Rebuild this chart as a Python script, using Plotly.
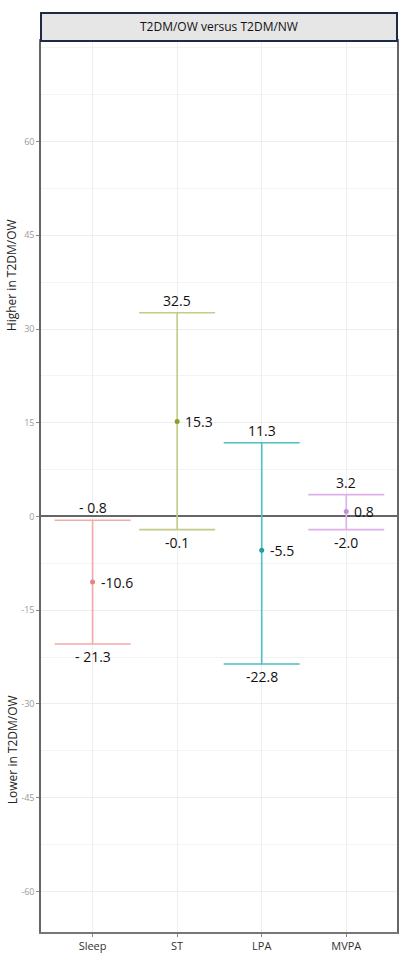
import plotly.graph_objects as go

# ---- data ----
categories = ["Sleep", "ST", "LPA", "MVPA"]
estimate = [-10.5, 15.2, -5.4, 0.8]
ci_lower = [-20.4, -2.1, -23.6, -2.1]
ci_upper = [-0.6, 32.6, 11.8, 3.5]
label_est = ["-10.6", "15.3", "-5.5", "0.8"]
label_lower = ["- 21.3", "-0.1", "-22.8", "-2.0"]
label_upper = ["- 0.8", "32.5", "11.3", "3.2"]
y_ticks = [60, 45, 30, 15, 0, -15, -30, -45, -60]
line_colors = ["#F2A9A6", "#C4CB86", "#4DBFC3", "#DDB0EA"]
point_colors = ["#E58582", "#8E9B2E", "#1F9EA3", "#C48ED8"]
title_text = "T2DM/OW versus T2DM/NW"

W, H = 410, 974
ml, mr, mt, mb = 41, 11, 13, 42
plot_h = H - mt - mb
strip_h = 28
dom_top = (plot_h - strip_h) / plot_h

fig = go.Figure()
for i, c in enumerate(categories):
    fig.add_trace(go.Scatter(
        x=[c], y=[estimate[i]], mode="markers",
        marker=dict(size=5, color=point_colors[i]),
        error_y=dict(type="data", symmetric=False,
                     array=[ci_upper[i] - estimate[i]],
                     arrayminus=[estimate[i] - ci_lower[i]],
                     color=line_colors[i], thickness=1.6, width=38),
        showlegend=False, hoverinfo="skip"))

font_lab = dict(family="Open Sans, Liberation Sans, sans-serif", size=14, color="#111111")
ann = []
for i, c in enumerate(categories):
    ann.append(dict(x=c, y=ci_upper[i], xref="x", yref="y", text=label_upper[i],
                    showarrow=False, yanchor="bottom", xanchor="center", yshift=1, font=font_lab))
    ann.append(dict(x=c, y=ci_lower[i], xref="x", yref="y", text=label_lower[i],
                    showarrow=False, yanchor="top", xanchor="center", yshift=-1, font=font_lab))
    ann.append(dict(x=c, y=estimate[i], xref="x", yref="y", text=label_est[i],
                    showarrow=False, yanchor="middle", xanchor="left", xshift=6, font=font_lab))

# side titles
ann.append(dict(x=-ml / (W - ml - mr) + 12 / (W - ml - mr), y=(H - mb - 275) / plot_h,
                xref="paper", yref="paper", text="Higher in T2DM/OW", textangle=-90,
                showarrow=False, xanchor="center", yanchor="middle",
                font=dict(family="Open Sans, sans-serif", size=12, color="#222222")))
ann.append(dict(x=-ml / (W - ml - mr) + 12 / (W - ml - mr), y=(H - mb - 750) / plot_h,
                xref="paper", yref="paper", text="Lower in T2DM/OW", textangle=-90,
                showarrow=False, xanchor="center", yanchor="middle",
                font=dict(family="Open Sans, sans-serif", size=12, color="#222222")))
# strip title
ann.append(dict(x=0.5, y=(1 + dom_top) / 2, xref="paper", yref="paper", text=title_text,
                showarrow=False, xanchor="center", yanchor="middle",
                font=dict(family="Open Sans, sans-serif", size=12, color="#111111")))

fig.update_layout(
    width=W, height=H, margin=dict(l=ml, r=mr, t=mt, b=mb, pad=0),
    paper_bgcolor="white", plot_bgcolor="white",
    annotations=ann,
    shapes=[dict(type="rect", xref="paper", yref="paper", x0=0, x1=1, y0=dom_top, y1=1,
                 fillcolor="#E6E6E6", line=dict(color="#1C2A48", width=2), layer="above")],
    xaxis=dict(type="category", categoryorder="array", categoryarray=categories,
               range=[-0.61, 3.6], showgrid=True, gridcolor="#EEEEEE", gridwidth=1,
               showline=True, linecolor="#777777", linewidth=1.5, mirror=True,
               ticks="outside", ticklen=3, tickcolor="#888888",
               tickfont=dict(family="Open Sans, sans-serif", size=11, color="#333333"),
               zeroline=False),
    yaxis=dict(domain=[0, dom_top], range=[-66.5, 76.1], tickvals=y_ticks,
               ticktext=[str(v) for v in y_ticks],
               showgrid=True, gridcolor="#EEEEEE", gridwidth=1,
               minor=dict(dtick=7.5, tick0=0, showgrid=True, gridcolor="#F3F3F3", gridwidth=1),
               showline=True, linecolor="#666666", linewidth=1.5, mirror=True,
               ticks="outside", ticklen=3, tickcolor="#888888",
               tickfont=dict(family="Open Sans, sans-serif", size=9, color="#999999"),
               zeroline=True, zerolinecolor="#666666", zerolinewidth=1.5),
)

fig.write_html("out.html")
